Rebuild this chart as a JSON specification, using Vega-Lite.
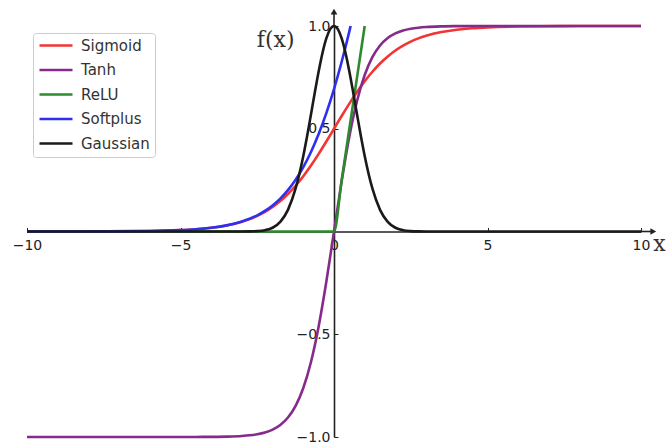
{
  "$schema": "https://vega.github.io/schema/vega-lite/v6.json",
  "width": 614,
  "height": 411,
  "autosize": {"type": "none"},
  "padding": {"left": 27, "top": 26, "right": 25, "bottom": 9},
  "background": "white",
  "config": {
    "view": {"stroke": null},
    "font": "DejaVu Sans"
  },
  "datasets": {
    "curves": [
      {"x": -10, "Sigmoid": 0.00005, "Tanh": -1, "ReLU": 0, "Softplus": 0.00005, "Gaussian": 0},
      {"x": -8, "Sigmoid": 0.00034, "Tanh": -1, "ReLU": 0, "Softplus": 0.00034, "Gaussian": 0},
      {"x": -6, "Sigmoid": 0.00247, "Tanh": -0.99999, "ReLU": 0, "Softplus": 0.00248, "Gaussian": 0},
      {"x": -5, "Sigmoid": 0.00669, "Tanh": -0.99991, "ReLU": 0, "Softplus": 0.00672, "Gaussian": 0},
      {"x": -4.5, "Sigmoid": 0.01099, "Tanh": -0.99975, "ReLU": 0, "Softplus": 0.01105, "Gaussian": 0},
      {"x": -4, "Sigmoid": 0.01799, "Tanh": -0.99933, "ReLU": 0, "Softplus": 0.01815, "Gaussian": 0},
      {"x": -3.5, "Sigmoid": 0.02931, "Tanh": -0.99818, "ReLU": 0, "Softplus": 0.02975, "Gaussian": 0},
      {"x": -3, "Sigmoid": 0.04743, "Tanh": -0.99505, "ReLU": 0, "Softplus": 0.04859, "Gaussian": 0.00012},
      {"x": -2.75, "Sigmoid": 0.06009, "Tanh": -0.99182, "ReLU": 0, "Softplus": 0.06197, "Gaussian": 0.00052},
      {"x": -2.5, "Sigmoid": 0.07586, "Tanh": -0.98661, "ReLU": 0, "Softplus": 0.07889, "Gaussian": 0.00193},
      {"x": -2.25, "Sigmoid": 0.09535, "Tanh": -0.97803, "ReLU": 0, "Softplus": 0.1002, "Gaussian": 0.00633},
      {"x": -2, "Sigmoid": 0.1192, "Tanh": -0.96403, "ReLU": 0, "Softplus": 0.12693, "Gaussian": 0.01832},
      {"x": -1.75, "Sigmoid": 0.14805, "Tanh": -0.94138, "ReLU": 0, "Softplus": 0.16022, "Gaussian": 0.04677},
      {"x": -1.5, "Sigmoid": 0.18243, "Tanh": -0.90515, "ReLU": 0, "Softplus": 0.20141, "Gaussian": 0.1054},
      {"x": -1.25, "Sigmoid": 0.2227, "Tanh": -0.84828, "ReLU": 0, "Softplus": 0.25193, "Gaussian": 0.20961},
      {"x": -1, "Sigmoid": 0.26894, "Tanh": -0.76159, "ReLU": 0, "Softplus": 0.31326, "Gaussian": 0.36788},
      {"x": -0.875, "Gaussian": 0.46504},
      {"x": -0.75, "Sigmoid": 0.32082, "Tanh": -0.63515, "ReLU": 0, "Softplus": 0.38687, "Gaussian": 0.56978},
      {"x": -0.625, "Gaussian": 0.67663},
      {"x": -0.5, "Sigmoid": 0.37754, "Tanh": -0.46212, "ReLU": 0, "Softplus": 0.47408, "Gaussian": 0.7788},
      {"x": -0.375, "Gaussian": 0.86882},
      {"x": -0.25, "Sigmoid": 0.43782, "Tanh": -0.24492, "ReLU": 0, "Softplus": 0.57602, "Gaussian": 0.93941},
      {"x": -0.125, "Gaussian": 0.9845},
      {"x": 0, "Sigmoid": 0.5, "Tanh": 0, "ReLU": 0, "Softplus": 0.69315, "Gaussian": 1},
      {"x": 0.125, "Gaussian": 0.9845},
      {"x": 0.25, "Sigmoid": 0.56218, "Tanh": 0.24492, "ReLU": 0.25, "Softplus": 0.82602, "Gaussian": 0.93941},
      {"x": 0.375, "Gaussian": 0.86882},
      {"x": 0.5, "Sigmoid": 0.62246, "Tanh": 0.46212, "ReLU": 0.5, "Softplus": 0.97408, "Gaussian": 0.7788},
      {"x": 0.541, "Softplus": 1},
      {"x": 0.625, "Gaussian": 0.67663},
      {"x": 0.75, "Sigmoid": 0.67918, "Tanh": 0.63515, "ReLU": 0.75, "Gaussian": 0.56978},
      {"x": 0.875, "Gaussian": 0.46504},
      {"x": 1, "Sigmoid": 0.73106, "Tanh": 0.76159, "ReLU": 1, "Gaussian": 0.36788},
      {"x": 1.25, "Sigmoid": 0.7773, "Tanh": 0.84828, "Gaussian": 0.20961},
      {"x": 1.5, "Sigmoid": 0.81757, "Tanh": 0.90515, "Gaussian": 0.1054},
      {"x": 1.75, "Sigmoid": 0.85195, "Tanh": 0.94138, "Gaussian": 0.04677},
      {"x": 2, "Sigmoid": 0.8808, "Tanh": 0.96403, "Gaussian": 0.01832},
      {"x": 2.25, "Sigmoid": 0.90465, "Tanh": 0.97803, "Gaussian": 0.00633},
      {"x": 2.5, "Sigmoid": 0.92414, "Tanh": 0.98661, "Gaussian": 0.00193},
      {"x": 2.75, "Sigmoid": 0.93991, "Tanh": 0.99182, "Gaussian": 0.00052},
      {"x": 3, "Sigmoid": 0.95257, "Tanh": 0.99505, "Gaussian": 0.00012},
      {"x": 3.5, "Sigmoid": 0.97069, "Tanh": 0.99818, "Gaussian": 0},
      {"x": 4, "Sigmoid": 0.98201, "Tanh": 0.99933, "Gaussian": 0},
      {"x": 4.5, "Sigmoid": 0.98901, "Tanh": 0.99975, "Gaussian": 0},
      {"x": 5, "Sigmoid": 0.99331, "Tanh": 0.99991, "Gaussian": 0},
      {"x": 6, "Sigmoid": 0.99753, "Tanh": 0.99999, "Gaussian": 0},
      {"x": 8, "Sigmoid": 0.99966, "Tanh": 1, "Gaussian": 0},
      {"x": 10, "Sigmoid": 0.99995, "Tanh": 1, "Gaussian": 0}
    ],
    "axisExtensions": [
      {"x": 0, "x2": 0, "y": 1, "y2": 1.07},
      {"x": 10, "x2": 10.4, "y": 0, "y2": 0}
    ],
    "arrowHeads": [
      {"x": 0, "y": 1.07, "shape": "triangle-up"},
      {"x": 10.4, "y": 0, "shape": "triangle-right"}
    ],
    "axisTitles": [
      {"x": -1.9, "y": 0.93, "label": "f(x)"},
      {"x": 10.6, "y": -0.06, "label": "x"}
    ]
  },
  "layer": [
    {
      "data": {"name": "curves"},
      "transform": [
        {"fold": ["Sigmoid", "Tanh", "ReLU", "Softplus", "Gaussian"], "as": ["f", "y"]},
        {"filter": "isValid(datum.y)"}
      ],
      "mark": {"type": "line", "strokeWidth": 2.6, "interpolate": "monotone", "clip": false},
      "encoding": {
        "x": {
          "field": "x",
          "type": "quantitative",
          "scale": {"domain": [-10, 10], "nice": false, "zero": false},
          "axis": {
            "orient": "bottom",
            "offset": -205.5,
            "values": [-10, -5, 0, 5, 10],
            "labelExpr": "replace(format(datum.value, 'd'), '-', '\u2212')",
            "title": null,
            "grid": false,
            "domainColor": "#222222",
            "domainWidth": 1.6,
            "tickColor": "#222222",
            "tickSize": -4,
            "labelPadding": 11,
            "labelFlush": false,
            "labelBound": false,
            "labelOverlap": false,
            "labelFont": "DejaVu Sans",
            "labelFontSize": 14,
            "labelColor": "#222222"
          }
        },
        "y": {
          "field": "y",
          "type": "quantitative",
          "scale": {"domain": [-1, 1], "nice": false, "zero": false},
          "axis": {
            "orient": "left",
            "offset": -307,
            "values": [-1, -0.5, 0.5, 1],
            "labelExpr": "replace(format(datum.value, '.1f'), '-', '\u2212')",
            "title": null,
            "grid": false,
            "domainColor": "#222222",
            "domainWidth": 1.6,
            "tickColor": "#222222",
            "tickSize": -4,
            "labelPadding": 8,
            "labelFlush": false,
            "labelBound": false,
            "labelOverlap": false,
            "labelFont": "DejaVu Sans",
            "labelFontSize": 14,
            "labelColor": "#222222"
          }
        },
        "color": {
          "field": "f",
          "type": "nominal",
          "sort": ["Sigmoid", "Tanh", "ReLU", "Softplus", "Gaussian"],
          "scale": {
            "domain": ["Sigmoid", "Tanh", "ReLU", "Softplus", "Gaussian"],
            "range": ["#f23434", "#862a8c", "#2e8a2e", "#2f2ff0", "#1a1a1a"]
          },
          "legend": {
            "orient": "none",
            "legendX": 6,
            "legendY": 7,
            "title": null,
            "symbolType": "M-1,0H4.5",
            "symbolSize": 144,
            "symbolStrokeWidth": 2.6,
            "labelFont": "DejaVu Sans",
            "labelFontSize": 15,
            "labelColor": "#333333",
            "labelOffset": 28,
            "rowPadding": 8.5,
            "padding": 5,
            "fillColor": "white",
            "strokeColor": "#cccccc",
            "cornerRadius": 3
          }
        },
        "order": {"field": "x", "type": "quantitative"}
      }
    },
    {
      "data": {"name": "axisExtensions"},
      "mark": {"type": "rule", "color": "#222222", "strokeWidth": 1.6},
      "encoding": {
        "x": {"field": "x", "type": "quantitative"},
        "x2": {"field": "x2"},
        "y": {"field": "y", "type": "quantitative"},
        "y2": {"field": "y2"}
      }
    },
    {
      "data": {"name": "arrowHeads"},
      "mark": {"type": "point", "filled": true, "color": "#222222", "size": 45, "opacity": 1},
      "encoding": {
        "x": {"field": "x", "type": "quantitative"},
        "y": {"field": "y", "type": "quantitative"},
        "shape": {"field": "shape", "type": "nominal", "scale": null, "legend": null}
      }
    },
    {
      "data": {"name": "axisTitles"},
      "mark": {"type": "text", "font": "DejaVu Serif", "fontSize": 22, "color": "#333333", "align": "center", "baseline": "middle"},
      "encoding": {
        "x": {"field": "x", "type": "quantitative"},
        "y": {"field": "y", "type": "quantitative"},
        "text": {"field": "label"}
      }
    }
  ]
}
